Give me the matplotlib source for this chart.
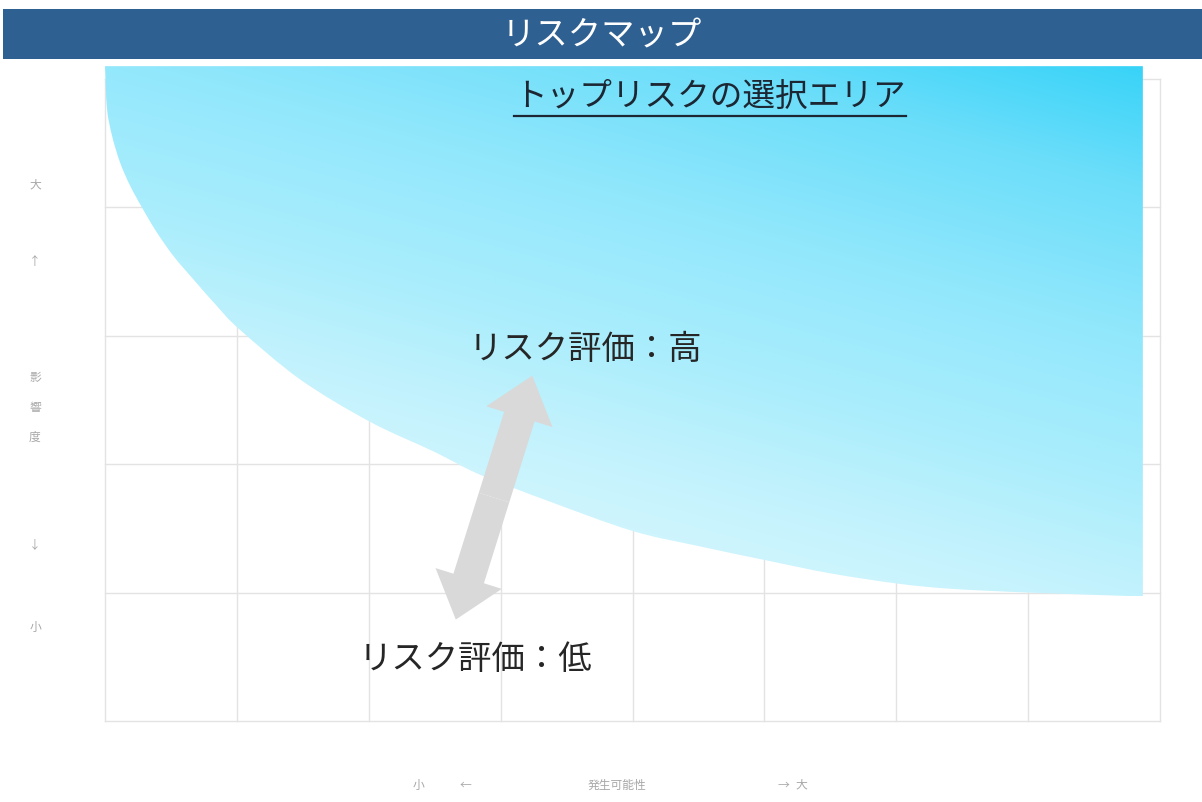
import numpy as np
import matplotlib
matplotlib.use("Agg")
import matplotlib.pyplot as plt
from matplotlib.patches import PathPatch, Rectangle, FancyArrowPatch, ArrowStyle
from matplotlib.path import Path
from matplotlib.lines import Line2D
from matplotlib.colors import to_rgb

plt.rcParams['font.family'] = ['Noto Sans CJK JP', 'DejaVu Sans']

# ---- data ----
title = "リスクマップ"
area_label = "トップリスクの選択エリア"
high_label = "リスク評価：高"
low_label = "リスク評価：低"
n_cols = 8
n_rows = 5
# boundary of the top-risk area (likelihood, impact)
curve_x = [0.0, 0.015, 0.053, 0.114, 0.19, 0.28, 0.39, 0.52, 0.67, 0.85, 1.02,
           1.48, 2.01, 2.49, 2.84, 3.37, 4.00, 4.51, 5.02, 5.50, 6.01, 6.41, 7.01, 7.87]
curve_y = [5.10, 4.77, 4.56, 4.35, 4.17, 4.00, 3.81, 3.62, 3.44, 3.23, 3.05,
           2.66, 2.33, 2.10, 1.92, 1.71, 1.48, 1.36, 1.25, 1.15, 1.07, 1.03, 1.00, 0.97]
area_top = 5.10
area_right = 7.87
arrow_low = (2.66, 0.79)
arrow_high = (3.24, 2.69)
arrow_mid = (2.95, 1.74)
y_axis_labels = ["大", "↑", "影", "響", "度", "↓", "小"]
y_axis_label_px = [185, 262, 378, 408, 437, 545, 627]
x_axis_labels = ["小", "←", "発生可能性", "→", "大"]
x_axis_label_px = [418, 465, 617, 783, 801]
grad_stops = [0.0, 0.15, 0.35, 0.5, 0.65, 0.8, 1.0]
grad_colors = ['#38d3f8', '#6cdefa', '#94e8fc', '#a8edfc', '#c2f2fd', '#d6f7fe', '#e2f9fe']

W, H = 1202, 803
fig = plt.figure(figsize=(W / 100, H / 100), dpi=100)
ax = fig.add_axes([105 / W, 1 - 722 / H, (1160 - 105) / W, (722 - 80) / H])
ax.set_xlim(0, n_cols)
ax.set_ylim(0, n_rows)
ax.axis('off')

# grid
gc = '#e3e3e3'
for i in range(n_cols + 1):
    ax.plot([i, i], [0, n_rows], color=gc, lw=1.0, zorder=1, clip_on=False)
for j in range(n_rows + 1):
    ax.plot([0, n_cols], [j, j], color=gc, lw=1.0, zorder=1, clip_on=False)

# top risk area: smooth boundary through the read points (Catmull-Rom -> Bezier)
P = np.column_stack([curve_x, curve_y])
verts = [tuple(P[0])]
codes = [Path.MOVETO]
for i in range(len(P) - 1):
    p0 = P[max(i - 1, 0)]
    p1 = P[i]
    p2 = P[i + 1]
    p3 = P[min(i + 2, len(P) - 1)]
    c1 = p1 + (p2 - p0) / 6.0
    c2 = p2 - (p3 - p1) / 6.0
    verts += [tuple(c1), tuple(c2), tuple(p2)]
    codes += [Path.CURVE4] * 3
verts += [(area_right, area_top), (curve_x[0], area_top), (curve_x[0], area_top)]
codes += [Path.LINETO, Path.LINETO, Path.CLOSEPOLY]
area_path = Path(verts, codes)
poly = PathPatch(area_path, facecolor='none', edgecolor='none', transform=ax.transData)
ax.add_patch(poly)
poly.set_clip_on(False)

ymin = min(curve_y)
nx, ny = 300, 200
gx = np.linspace(curve_x[0], area_right, nx)
gy = np.linspace(area_top, ymin, ny)
GX, GY = np.meshgrid(gx, gy)
dx = (area_right - GX) / (area_right - curve_x[0])
dy = (area_top - GY) / (area_top - ymin)
t = 0.35 * dx + 0.65 * dy
cols = np.array([to_rgb(c) for c in grad_colors])
img = np.stack([np.interp(t, grad_stops, cols[:, k]) for k in range(3)], axis=-1)
im = ax.imshow(img, extent=[curve_x[0], area_right, ymin, area_top],
               origin='upper', aspect='auto', zorder=2, interpolation='bilinear')
im.set_clip_path(poly)
im.set_clip_box(fig.bbox)

# double arrow
style = ArrowStyle.Simple(head_length=0.62, head_width=1.0, tail_width=0.46)
for end in (arrow_low, arrow_high):
    a = FancyArrowPatch(arrow_mid, end, arrowstyle=style, mutation_scale=50,
                        color='#d9d9d9', lw=0, shrinkA=0, shrinkB=0, zorder=3)
    ax.add_patch(a)

# labels on chart
fig.text(585 / W, 1 - 350 / H, high_label, fontsize=24, color='#262626',
         ha='center', va='center', zorder=4)
fig.text(475 / W, 1 - 660 / H, low_label, fontsize=24, color='#262626',
         ha='center', va='center', zorder=4)

# title bar
fig.patches.append(Rectangle((3 / W, 1 - 60 / H), 1 - 3 / W, 50 / H,
                             transform=fig.transFigure, facecolor='#2f6092',
                             edgecolor='none', zorder=5))
fig.text(602 / W, 1 - 36 / H, title, fontsize=24, color='white',
         ha='center', va='center', zorder=6)

at = fig.text(710 / W, 1 - 97 / H, area_label, fontsize=23.5, color='#1c2733',
              ha='center', va='center', zorder=6)
fig.canvas.draw()
bb = at.get_window_extent()
fig.lines.append(Line2D([bb.x0 / W, bb.x1 / W], [1 - 117 / H, 1 - 117 / H],
                        transform=fig.transFigure, color='#1c2733', lw=1.6, zorder=6))

# axis labels
for s, py in zip(y_axis_labels, y_axis_label_px):
    fig.text(35 / W, 1 - py / H, s, fontsize=8.5, color='#a8a8a8', ha='center', va='center')
for s, px in zip(x_axis_labels, x_axis_label_px):
    fig.text(px / W, 1 - 785 / H, s, fontsize=8.5, color='#a8a8a8', ha='center', va='center')

fig.savefig('out.png', dpi=100)
